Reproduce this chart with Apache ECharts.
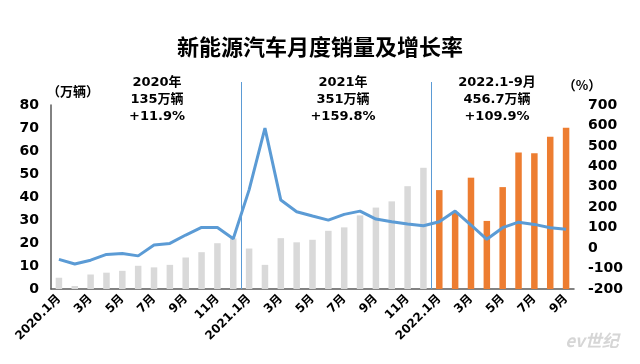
<!DOCTYPE html>
<html><head><meta charset="utf-8">
<script src="https://cdn.jsdelivr.net/npm/echarts@6/dist/echarts.min.js"></script>
<style>html,body{margin:0;padding:0;background:#fff}#c{width:640px;height:364px}</style>
</head><body><div id="c"></div>
<script>
var categories = ['2020.1月','2月','3月','4月','5月','6月','7月','8月','9月','10月','11月','12月',
  '2021.1月','2月','3月','4月','5月','6月','7月','8月','9月','10月','11月','12月',
  '2022.1月','2月','3月','4月','5月','6月','7月','8月','9月'];
var sales2020 = [4.9, 1.3, 6.3, 7.1, 7.9, 10.1, 9.4, 10.5, 13.7, 16.0, 19.9, 22.0];
var sales2021 = [17.6, 10.5, 22.1, 20.3, 21.4, 25.3, 26.8, 32.0, 35.4, 38.1, 44.7, 52.7];
var sales2022 = [43.0, 33.4, 48.4, 29.6, 44.3, 59.4, 59.0, 66.2, 70.1];
var growth = [-55, -78, -59, -31, -26, -38, 15, 23, 64, 101, 101, 46,
  285, 587, 235, 178, 157, 137, 165, 181, 142, 129, 118, 109,
  129, 181, 113, 43, 100, 127, 116, 100, 92];
var leftTicks = {min: 0, max: 80, interval: 10};
var rightTicks = {min: -200, max: 700, interval: 100};
var separators = [12, 24];
var separatorTop = 90;
var annotations = ['2020年\n135万辆\n+11.9%', '2021年\n351万辆\n+159.8%', '2022.1-9月\n456.7万辆\n+109.9%'];

var gray = '#d9d9d9', orange = '#ed7d31', blue = '#5b9bd5';
var barData = [];
sales2020.concat(sales2021).forEach(function(v){ barData.push({value: v, itemStyle: {color: gray}}); });
sales2022.forEach(function(v){ barData.push({value: v, itemStyle: {color: orange}}); });

var font = '"DejaVu Sans", "Noto Sans CJK SC", sans-serif';
var cjk = '"Noto Sans CJK SC", sans-serif';
var annoFont = 'bold 13px "DejaVu Sans", "Noto Sans CJK SC", sans-serif';

var chart = echarts.init(document.getElementById('c'));
chart.setOption({
  animation: false,
  backgroundColor: '#fff',
  title: {text: '新能源汽车月度销量及增长率', left: 'center', top: 31,
    textStyle: {fontSize: 22, fontWeight: 'bold', color: '#000', fontFamily: cjk}},
  grid: {left: 51, right: 66, top: 105, bottom: 75},
  xAxis: [{
    type: 'category', data: categories,
    axisLine: {lineStyle: {color: '#595959', width: 1.5}},
    axisTick: {show: false},
    axisLabel: {interval: 1, rotate: 45, fontSize: 12, fontWeight: 'bold', color: '#000', fontFamily: font, margin: 8}
  }, {
    type: 'value', min: 0, max: categories.length, show: false
  }],
  yAxis: [{
    type: 'value', min: leftTicks.min, max: leftTicks.max, interval: leftTicks.interval,
    axisLine: {show: true, lineStyle: {color: '#595959', width: 1.5}},
    axisTick: {show: false}, splitLine: {show: false},
    axisLabel: {fontSize: 14, fontWeight: 'bold', color: '#000', fontFamily: font, margin: 12}
  }, {
    type: 'value', min: rightTicks.min, max: rightTicks.max, interval: rightTicks.interval,
    axisLine: {show: false}, axisTick: {show: false}, splitLine: {show: false},
    axisLabel: {fontSize: 14, fontWeight: 'bold', color: '#000', fontFamily: font, margin: 14}
  }],
  series: [{
    type: 'bar', data: barData, barWidth: 6.5, yAxisIndex: 0
  }, {
    type: 'line', data: growth, yAxisIndex: 1, symbol: 'none', smooth: false,
    lineStyle: {color: blue, width: 3}, itemStyle: {color: blue}, z: 5
  }, {
    type: 'custom', xAxisIndex: 1, yAxisIndex: 0, clip: false, silent: true, z: 1,
    data: separators.map(function(s){ return [s]; }),
    renderItem: function(params, api){
      var p1 = api.coord([api.value(0), separatorTop]);
      var p2 = api.coord([api.value(0), 0]);
      return {type: 'line', shape: {x1: Math.round(p1[0]) + 0.5, y1: p1[1], x2: Math.round(p2[0]) + 0.5, y2: p2[1]},
        style: {stroke: blue, lineWidth: 1}};
    }
  }],
  graphic: [
    {type: 'text', x: 157, y: 74, style: {text: annotations[0], font: annoFont, fill: '#000', textAlign: 'center', lineHeight: 17}},
    {type: 'text', x: 343, y: 74, style: {text: annotations[1], font: annoFont, fill: '#000', textAlign: 'center', lineHeight: 17}},
    {type: 'text', x: 497, y: 74, style: {text: annotations[2], font: annoFont, fill: '#000', textAlign: 'center', lineHeight: 17}},
    {type: 'text', x: 73, y: 85, style: {text: '（万辆）', font: 'bold 13px ' + cjk, fill: '#000', textAlign: 'center'}},
    {type: 'text', x: 582, y: 79, style: {text: '（%）', font: 'bold 13px ' + cjk, fill: '#000', textAlign: 'center'}},
    {type: 'text', x: 592, y: 332, style: {text: 'ev世纪', font: 'italic bold 17px ' + cjk, fill: '#d6d6d6', textAlign: 'center'}}
  ]
});
</script></body></html>
